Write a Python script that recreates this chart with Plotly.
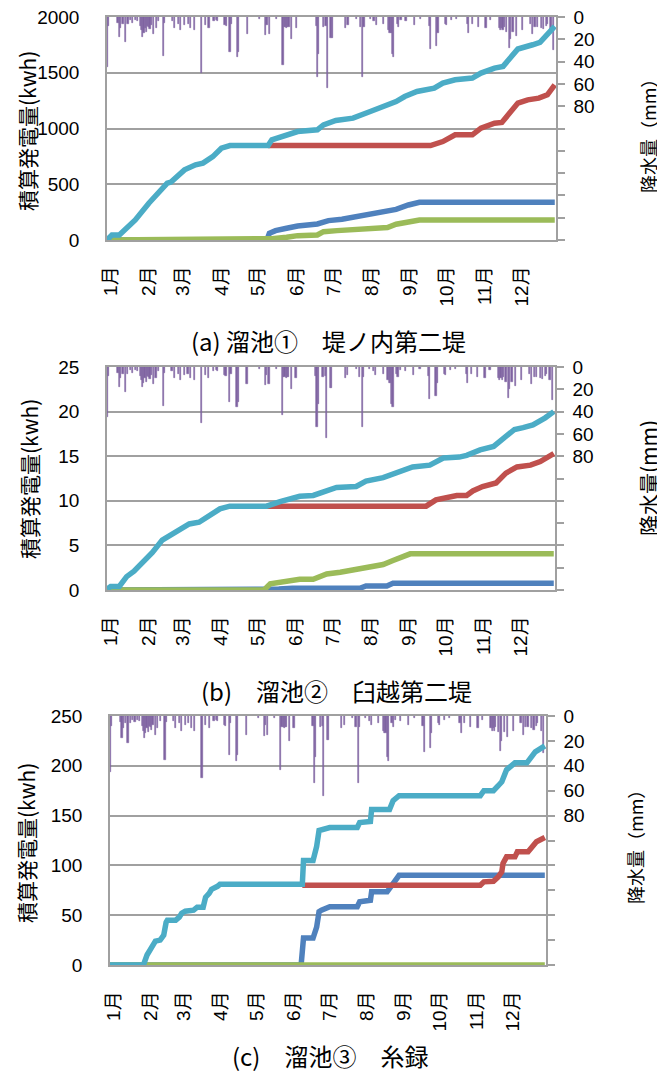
import plotly.graph_objects as go

# ---------------- data ----------------
month_start = [0, 31, 59, 90, 120, 151, 181, 212, 243, 273, 304, 334]
month_labels = ["1月", "2月", "3月", "4月", "5月", "6月", "7月", "8月", "9月", "10月", "11月", "12月"]

# daily precipitation (mm), days with rain only (day of year, 0 = Jan 1)
rain_day = [0, 1, 9, 10, 11, 13, 15, 17, 19, 21, 23, 25, 27, 28, 29, 30, 31, 32, 33, 34, 35, 36, 38, 40, 42,
            46, 47, 53, 55, 58, 60, 63, 66, 68, 71, 77, 80, 83, 87, 89,
            90, 96, 97, 100, 101, 106, 107, 114, 124, 129, 130, 132, 138, 143, 144, 145, 146, 147, 148, 150, 154,
            170, 171, 172, 176, 178, 179, 182, 183, 194, 196, 203, 206, 208, 209, 214, 217, 219, 225, 229, 230,
            231, 232, 233, 236, 237, 239, 243, 250, 255, 262, 263, 268, 269, 275, 276, 280, 284, 293, 294, 297,
            302, 308, 312, 319, 320, 321, 322, 323, 325, 327, 328, 330, 333, 338, 344, 346, 348, 350, 353, 355,
            357, 358, 361, 363]
rain_mm = [45, 8, 5, 18, 10, 6, 22, 6, 3, 5, 3, 4, 8, 12, 18, 14, 10, 13, 8, 9, 11, 7, 15, 10, 4,
           35, 5, 4, 10, 6, 12, 7, 6, 10, 12, 50, 7, 10, 4, 3,
           4, 7, 8, 31, 6, 36, 31, 15, 2, 16, 7, 15, 2, 43, 9, 9, 10, 9, 9, 20, 10,
           8, 54, 33, 9, 8, 64, 19, 19, 10, 7, 2, 9, 54, 9, 2, 4, 7, 6, 12, 14,
           14, 33, 36, 6, 9, 3, 4, 7, 2, 8, 29, 26, 14, 6, 7, 3, 2, 6, 14, 6,
           9, 10, 3, 10, 12, 10, 12, 9, 13, 28, 20, 13, 17, 12, 6, 15, 9, 9, 10, 11,
           8, 6, 12, 30]

# ---- panel (a) 溜池① 堤ノ内第二堤 ----
a_total_day = [0, 4, 10, 23, 34, 49, 52, 63, 72, 78, 86, 93, 100, 131, 134, 141, 155, 171, 176, 186, 200,
               214, 224, 235, 242, 252, 266, 273, 283, 297, 304, 315, 322, 334, 346, 352, 364]
a_total = [0, 45, 45, 180, 330, 509, 520, 629, 674, 690, 748, 823, 847, 847, 898, 920, 973, 988, 1033, 1072,
           1093, 1153, 1198, 1242, 1287, 1332, 1362, 1407, 1437, 1452, 1497, 1542, 1557, 1713, 1751, 1772, 1916]
a_red_day = [131, 263, 273, 280, 283, 297, 304, 315, 321, 334, 342, 351, 358, 364]
a_red = [847, 847, 883, 928, 943, 943, 1003, 1048, 1054, 1228, 1257, 1272, 1302, 1392]
a_blue_day = [0, 130, 132, 137, 146, 155, 171, 180, 191, 202, 213, 224, 235, 245, 254, 364]
a_blue = [0, 0, 60, 84, 105, 126, 144, 174, 186, 210, 225, 254, 275, 314, 338, 338]
a_green_day = [0, 131, 134, 146, 155, 171, 176, 187, 202, 213, 228, 235, 245, 254, 364]
a_green = [0, 0, 12, 24, 39, 45, 75, 84, 90, 105, 111, 141, 165, 180, 180]

# ---- panel (b) 溜池② 臼越第二堤 ----
b_total_day = [0, 3, 10, 16, 22, 29, 37, 45, 51, 59, 67, 75, 84, 92, 100, 130, 141, 157, 168, 179, 187, 203,
               211, 225, 238, 249, 263, 274, 287, 293, 304, 315, 323, 332, 339, 347, 357, 364]
b_total = [0.1, 0.4, 0.4, 1.5, 2.1, 3.1, 4.2, 5.6, 6.1, 6.9, 7.4, 7.6, 8.4, 9.1, 9.4, 9.4, 9.9, 10.5, 10.6, 11.2,
           11.5, 11.6, 12.2, 12.6, 13.3, 13.8, 14.0, 14.8, 14.9, 15.1, 15.7, 16.1, 17.0, 18.0, 18.2, 18.5, 19.3, 20.0]
b_red_day = [130, 260, 268, 277, 285, 293, 298, 306, 317, 325, 334, 345, 353, 364]
b_red = [9.4, 9.4, 10.1, 10.3, 10.6, 10.6, 11.1, 11.6, 12.0, 13.1, 13.8, 14.0, 14.4, 15.3]
b_blue_day = [0, 130, 140, 151, 206, 211, 228, 233, 364]
b_blue = [0, 0, 0.1, 0.2, 0.2, 0.45, 0.45, 0.75, 0.75]
b_green_day = [0, 128, 133, 146, 157, 168, 179, 190, 200, 211, 225, 233, 247, 364]
b_green = [0, 0, 0.7, 1.05, 1.2, 1.2, 1.8, 2.0, 2.2, 2.5, 2.85, 3.3, 4.05, 4.05]

# ---- panel (c) 溜池③ 糸録 ----
c_total_day = [0, 28, 31, 34, 38, 42, 45, 47, 48, 55, 58, 60, 63, 70, 73, 78, 80, 83, 85, 90, 92, 161, 162,
               170, 173, 175, 184, 207, 209, 218, 219, 234, 237, 242, 310, 313, 321, 325, 328, 332, 339, 349,
               352, 356, 364]
c_total = [0, 0, 10, 15, 24, 25, 30, 43, 45, 45, 48, 52, 54, 55, 58, 58, 68, 72, 76, 79, 81, 81, 105,
           105, 119, 135, 138, 138, 143, 144, 156, 156, 165, 170, 170, 175, 175, 180, 184, 196, 203, 203,
           208, 214, 220]
c_red_day = [161, 310, 313, 321, 325, 328, 329, 332, 339, 341, 350, 353, 357, 364]
c_red = [80, 80, 83.5, 84, 88.5, 93.6, 102, 108.6, 108.6, 113.6, 113.6, 118.6, 123.7, 128]
c_blue_day = [0, 160, 162, 170, 173, 175, 177, 184, 207, 209, 218, 219, 232, 235, 237, 242, 364]
c_blue = [0, 0, 27, 27, 38, 53.5, 55, 58.5, 58.5, 63.5, 65, 73.5, 73.5, 78.5, 83.5, 90, 90]
c_green_day = [0, 364]
c_green = [0, 0]

# ---------------- figure ----------------
OFF = 8                      # page body margin in the browser
W, H = 665 - OFF, 1075 - OFF
C_TOTAL, C_RED, C_BLUE, C_GREEN, C_RAIN = "#4BACC6", "#C0504D", "#4F81BD", "#9BBB59", "#8064A2"
GRAY = "#A0A0A0"
CJK = "Noto Sans CJK JP"
NUM = "Liberation Sans, Noto Sans CJK JP"


def fx(px):
    return (px - OFF) / W


def fy(py):
    return 1 - (py - OFF) / H


fig = go.Figure()

panels = [
    dict(px=(107, 556), py=(17, 240), ymax=2000, dtick=500,
         series=[(a_blue_day, a_blue, C_BLUE), (a_green_day, a_green, C_GREEN),
                 (a_red_day, a_red, C_RED), (a_total_day, a_total, C_TOTAL)],
         title="(a) 溜池①　堤ノ内第二堤", title_xy=(328, 340),
         ltitle_xy=(27, 131), rtitle="降水量（mm）", rtitle_xy=(648, 132), rsize=18),
    dict(px=(107, 555), py=(367, 590), ymax=25, dtick=5,
         series=[(b_blue_day, b_blue, C_BLUE), (b_green_day, b_green, C_GREEN),
                 (b_red_day, b_red, C_RED), (b_total_day, b_total, C_TOTAL)],
         title="(b)　溜池②　臼越第二堤", title_xy=(336, 690),
         ltitle_xy=(29, 479), rtitle="降水量(mm)", rtitle_xy=(648, 478), rsize=21),
    dict(px=(110, 546), py=(716, 965), ymax=250, dtick=50,
         series=[(c_blue_day, c_blue, C_BLUE), (c_green_day, c_green, C_GREEN),
                 (c_red_day, c_red, C_RED), (c_total_day, c_total, C_TOTAL)],
         title="(c)　溜池③　糸録", title_xy=(330, 1055),
         ltitle_xy=(26, 843), rtitle="降水量（mm）", rtitle_xy=(635, 843), rsize=18),
]

rain_ticks = list(range(0, 201, 20))
rain_ticktext = [str(v) if v <= 80 else "" for v in rain_ticks]
annotations = []

for i, p in enumerate(panels):
    n = i + 1
    xname = "x" if n == 1 else f"x{n}"
    yr = 2 * n - 1   # rain axis (base)
    yk = 2 * n       # kWh axis (overlay)
    yr_name = "y" if yr == 1 else f"y{yr}"
    yk_name = f"y{yk}"
    xdom = [fx(p["px"][0]), fx(p["px"][1])]
    ydom = [fy(p["py"][1]), fy(p["py"][0])]

    fig.add_trace(go.Bar(x=rain_day, y=rain_mm, width=1.0,
                         marker=dict(color=C_RAIN, line=dict(width=0.6, color=C_RAIN)),
                         xaxis=xname, yaxis=yr_name, showlegend=False))
    for xs, ys, col in p["series"]:
        fig.add_trace(go.Scatter(x=xs, y=ys, mode="lines", line=dict(color=col, width=5.5),
                                 xaxis=xname, yaxis=yk_name, showlegend=False))

    xkey = "xaxis" if n == 1 else f"xaxis{n}"
    fig.layout[xkey] = dict(domain=xdom, anchor=yr_name, range=[0, 365], showgrid=False, zeroline=False,
                            showline=True, mirror=True, linecolor=GRAY, linewidth=1.5,
                            tickvals=[d + 3 for d in month_start], ticktext=month_labels, tickangle=-90,
                            ticks="outside", ticklen=17, tickcolor="rgba(0,0,0,0)",
                            tickfont=dict(family=NUM, size=19, color="black"), automargin=False)
    yrkey = "yaxis" if yr == 1 else f"yaxis{yr}"
    fig.layout[yrkey] = dict(domain=ydom, anchor=xname, side="right", range=[200, 0], showgrid=False,
                             zeroline=False, showline=True, linecolor=GRAY, linewidth=1.5,
                             tickvals=rain_ticks, ticktext=rain_ticktext, ticks="outside", ticklen=7,
                             tickcolor=GRAY, tickwidth=1.5, ticklabelstandoff=5, ticklabeloverflow="allow",
                             tickfont=dict(family=NUM, size=19, color="black"), automargin=False)
    fig.layout[f"yaxis{yk}"] = dict(overlaying=yr_name, anchor=xname, side="left", range=[0, p["ymax"]],
                                    dtick=p["dtick"], showgrid=True, gridcolor=GRAY, gridwidth=1.5,
                                    zeroline=False, showline=True, linecolor=GRAY, linewidth=1.5,
                                    ticks="", ticklabelstandoff=22, ticklabeloverflow="allow",
                                    tickfont=dict(family=NUM, size=19, color="black"), automargin=False)

    annotations.append(dict(text=p["title"], x=fx(p["title_xy"][0]), y=fy(p["title_xy"][1]),
                            xref="paper", yref="paper", showarrow=False, xanchor="center", yanchor="middle",
                            font=dict(family=CJK, size=24, color="black")))
    annotations.append(dict(text="積算発電量(kwh)", x=fx(p["ltitle_xy"][0]), y=fy(p["ltitle_xy"][1]),
                            xref="paper", yref="paper", showarrow=False, textangle=-90,
                            xanchor="center", yanchor="middle",
                            font=dict(family=CJK, size=21, color="black")))
    annotations.append(dict(text=p["rtitle"], x=fx(p["rtitle_xy"][0]), y=fy(p["rtitle_xy"][1]),
                            xref="paper", yref="paper", showarrow=False, textangle=-90,
                            xanchor="center", yanchor="middle",
                            font=dict(family=CJK, size=p["rsize"], color="black")))

fig.update_layout(width=W, height=H, margin=dict(l=0, r=0, t=0, b=0), paper_bgcolor="white",
                  plot_bgcolor="white", showlegend=False, annotations=annotations, bargap=0)

fig.write_html("out.html")
